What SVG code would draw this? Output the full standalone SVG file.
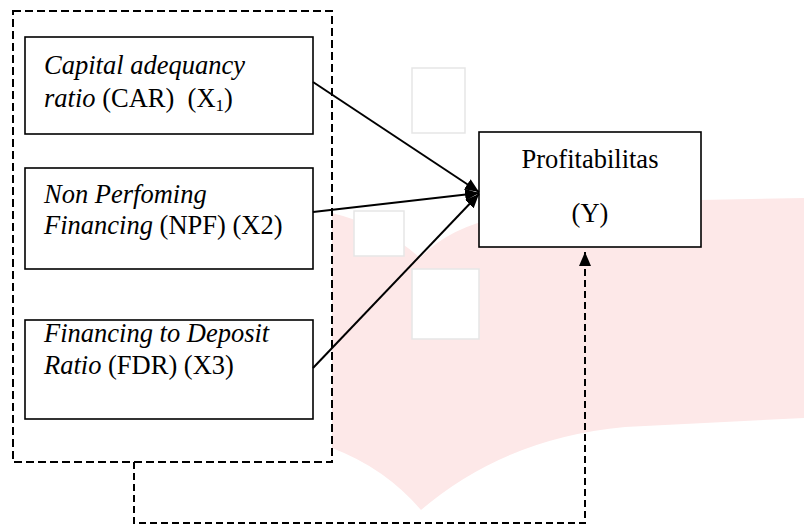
<svg xmlns="http://www.w3.org/2000/svg" width="804" height="530" viewBox="0 0 804 530">
<style>
  .bg{fill:#fde8e8;stroke:none}
  .sq{fill:#fff;stroke:#e6e6e6;stroke-width:1.5}
  .box{fill:#fff;stroke:#000;stroke-width:1.6}
  .grp{fill:none;stroke:#000;stroke-width:2;stroke-dasharray:8 4}
  .t{font-family:"Liberation Serif","Times New Roman",serif;font-size:26.5px;fill:#000;white-space:pre}
  .i{font-style:italic}
  .sub{font-size:17px}
  .arr{fill:none;stroke:#000;stroke-width:2}
  .dash{fill:none;stroke:#000;stroke-width:2;stroke-dasharray:7 4}
</style>
<defs>
  <marker id="ah" markerUnits="userSpaceOnUse" markerWidth="16" markerHeight="16" refX="14" refY="8" orient="auto">
    <path d="M0,2 L14,8 L0,14 z" fill="#000"/>
  </marker>
</defs>
<rect width="804" height="530" fill="#fff"/>
<path class="bg" d="M332,213 Q385,226 420,258 Q448,228 500,217 L700,200 L804,198 L804,418 L625,427 Q505,438 421,510 Q385,468 332,448 Z"/>
<rect class="sq" x="412" y="68" width="53" height="65"/>
<rect class="sq" x="354" y="211" width="50" height="45"/>
<rect class="sq" x="412" y="269" width="67" height="70"/>
<g id="group">
  <rect class="grp" x="13" y="11" width="319" height="451"/>
</g>
<g id="car">
  <rect class="box" x="25" y="37" width="288" height="97"/>
  <text class="t" x="44" y="74"><tspan class="i">Capital adequancy</tspan></text>
  <text class="t" x="44" y="107" xml:space="preserve"><tspan class="i">ratio</tspan> (CAR)  (X<tspan class="sub" dy="4">1</tspan><tspan dy="-4">)</tspan></text>
</g>
<g id="npf">
  <rect class="box" x="25" y="168" width="288" height="101"/>
  <text class="t" x="44" y="203"><tspan class="i">Non Perfoming</tspan></text>
  <text class="t" x="44" y="234"><tspan class="i">Financing</tspan> (NPF) (X2)</text>
</g>
<g id="fdr">
  <rect class="box" x="25" y="320" width="288" height="99"/>
  <text class="t" x="44" y="342"><tspan class="i">Financing to Deposit</tspan></text>
  <text class="t" x="44" y="374"><tspan class="i">Ratio</tspan> (FDR) (X3)</text>
</g>
<g id="y">
  <rect class="box" x="479" y="132" width="222" height="115"/>
  <text class="t" x="590" y="168" text-anchor="middle">Profitabilitas</text>
  <text class="t" x="590" y="222" text-anchor="middle">(Y)</text>
</g>
<g id="connectors">
  <line class="arr" x1="313" y1="82" x2="479" y2="192" marker-end="url(#ah)"/>
  <line class="arr" x1="313" y1="212" x2="479" y2="193" marker-end="url(#ah)"/>
  <line class="arr" x1="313" y1="368" x2="479" y2="194" marker-end="url(#ah)"/>
  <path class="dash" d="M134,462 V523 H585 V252" marker-end="url(#ah)"/>
</g>
</svg>
